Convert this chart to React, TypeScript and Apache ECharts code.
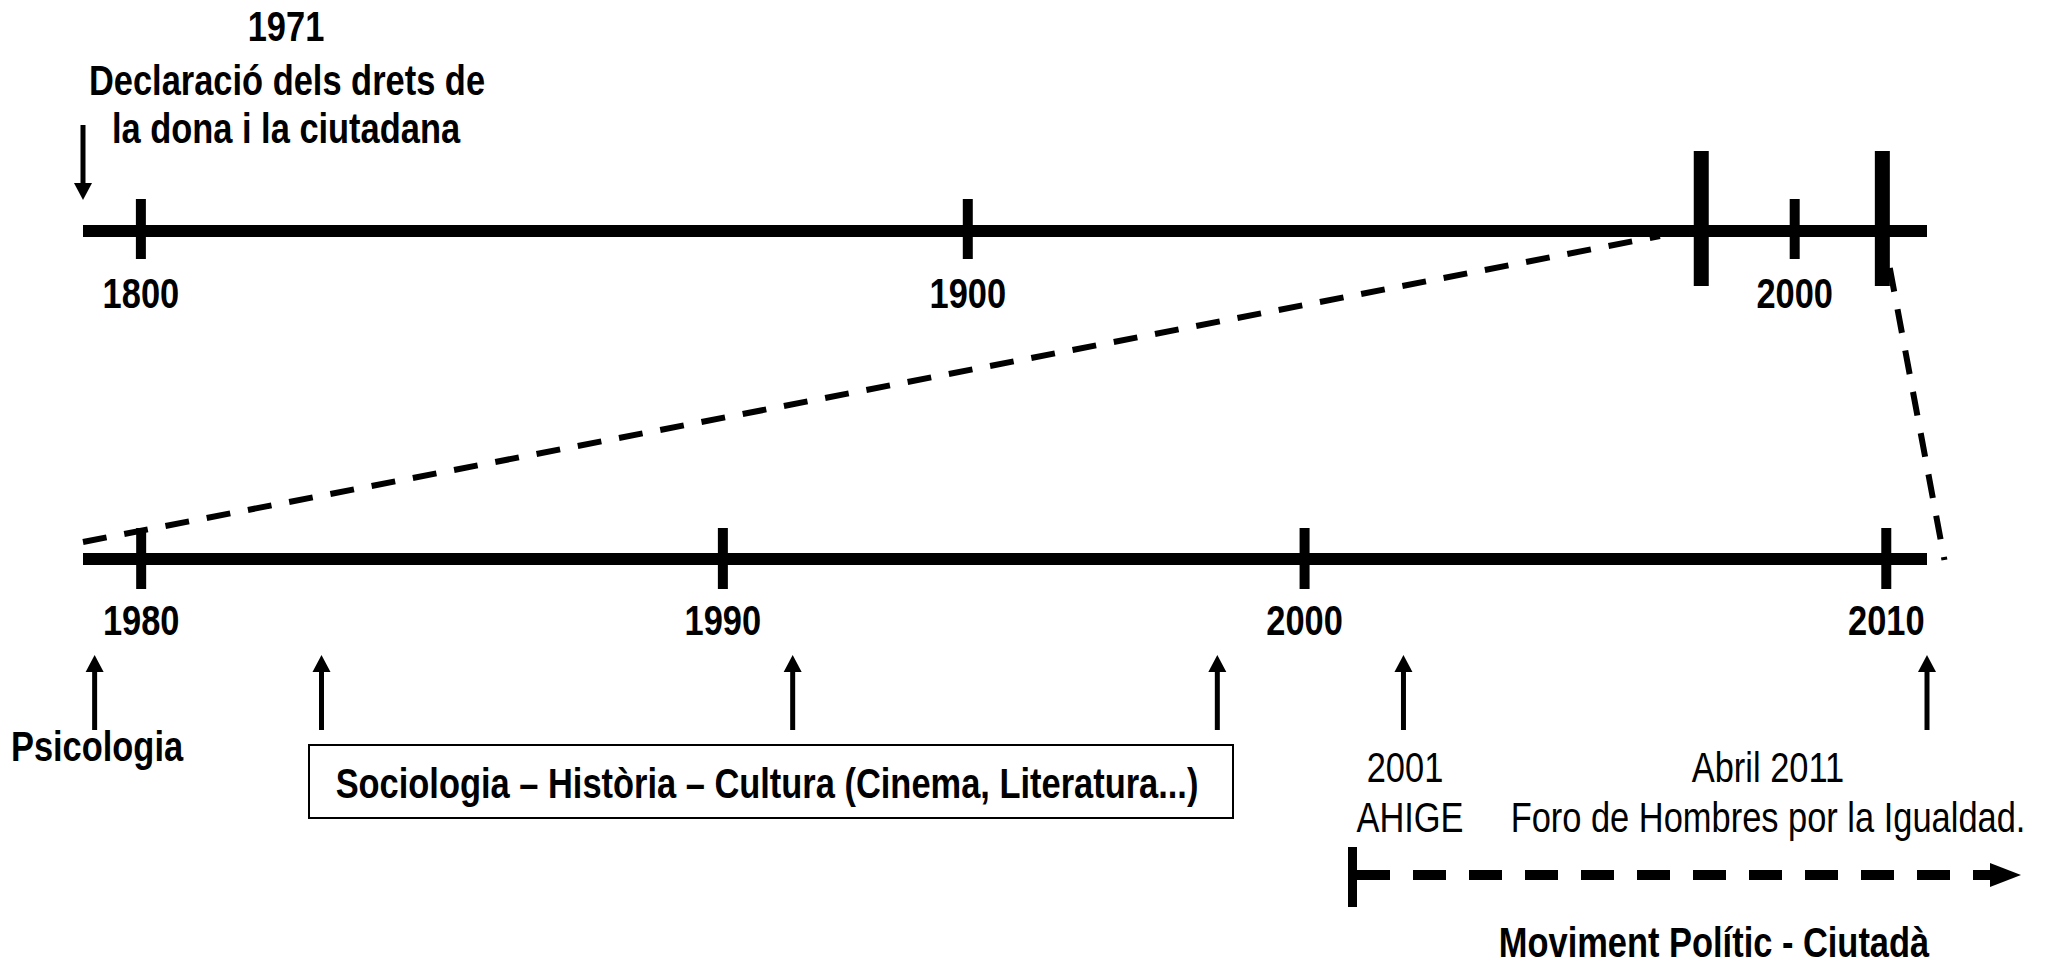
import React, { useEffect, useRef } from "react";
import * as echarts from "echarts";

const FONT = '"Liberation Sans", Arial, sans-serif';
const NARROW = 0.82;
const FS = 42;

// ---- top timeline (overview 1800-2000) ----
const topRange = [1793, 2016];
const topTicks = [1800, 1900, 2000];
const topTickLabels = ["1800", "1900", "2000"];
const topZoomMarks = [1988.7, 2010.6];
const topEventYears = [1793];
const zoomConnectTop = [1983.7, 2011.5];

// ---- bottom timeline (detail 1980-2011) ----
const bottomRange = [1979, 2010.7];
const bottomTicks = [1980, 1990, 2000, 2010];
const bottomTickLabels = ["1980", "1990", "2000", "2010"];
const bottomEventYears = [1979.2, 1983.1, 1991.2, 1998.5, 2001.7, 2010.7];
const zoomConnectBottom = [1979.0, 2011.0];

// ---- annotation texts ----
const topNoteLines = ["1971", "Declaració dels drets de", "la dona i la ciutadana"];
const psicoLabel = "Psicologia";
const boxLabel = "Sociologia – Història – Cultura (Cinema, Literatura...)";
const ahigeLines = ["2001", "AHIGE"];
const foroLines = ["Abril 2011", "Foro de Hombres por la Igualdad."];
const movimentLabel = "Moviment Polític - Ciutadà";

function textEl(text: string, x: number, y: number, bold = true, extra: any = {}) {
  return {
    type: "text",
    x,
    y,
    scaleX: NARROW,
    silent: true,
    style: {
      text,
      fill: "#000",
      fontFamily: FONT,
      fontSize: FS,
      fontWeight: bold ? "bold" : "normal",
      align: "center",
      textAlign: "center",
      verticalAlign: "middle",
      textVerticalAlign: "middle",
      ...extra,
    },
  };
}

function lineSeries(xAxisIndex: number, range: number[], yc: number) {
  return {
    type: "custom",
    xAxisIndex,
    yAxisIndex: 0,
    data: [[range[0], range[1]]],
    renderItem: (params: any, api: any) => {
      const a = api.coord([api.value(0), yc - 6]);
      const b = api.coord([api.value(1), yc + 6]);
      return {
        type: "rect",
        shape: { x: a[0], y: a[1], width: b[0] - a[0], height: b[1] - a[1] },
        style: { fill: "#000" },
      };
    },
  };
}

function tickSeries(
  xAxisIndex: number,
  ticks: number[],
  labels: string[] | null,
  y0: number,
  y1: number,
  w: number,
  labelY: number
) {
  return {
    type: "custom",
    xAxisIndex,
    yAxisIndex: 0,
    data: ticks.map((t) => [t]),
    renderItem: (params: any, api: any) => {
      const v = api.value(0);
      const a = api.coord([v, y0]);
      const b = api.coord([v, y1]);
      const children: any[] = [
        {
          type: "rect",
          shape: { x: a[0] - w / 2, y: a[1], width: w, height: b[1] - a[1] },
          style: { fill: "#000" },
        },
      ];
      if (labels) {
        const l = api.coord([v, labelY]);
        children.push({
          type: "text",
          x: l[0],
          y: l[1],
          scaleX: NARROW,
          style: {
            text: labels[params.dataIndex],
            fill: "#000",
            fontFamily: FONT,
            fontSize: FS,
            fontWeight: "bold",
            align: "center",
            verticalAlign: "middle",
          },
        });
      }
      return { type: "group", children };
    },
  };
}

function arrowSeries(xAxisIndex: number, years: number[], yTip: number, yTail: number) {
  return {
    type: "custom",
    xAxisIndex,
    yAxisIndex: 0,
    data: years.map((t) => [t]),
    renderItem: (params: any, api: any) => {
      const v = api.value(0);
      const tip = api.coord([v, yTip]);
      const tail = api.coord([v, yTail]);
      const dir = tail[1] > tip[1] ? 1 : -1;
      const headLen = 17;
      const headHalf = 9;
      const base = tip[1] + dir * headLen;
      return {
        type: "group",
        children: [
          {
            type: "line",
            shape: { x1: tip[0], y1: base, x2: tail[0], y2: tail[1] },
            style: { stroke: "#000", lineWidth: 5 },
          },
          {
            type: "polygon",
            shape: {
              points: [
                [tip[0], tip[1]],
                [tip[0] - headHalf, base],
                [tip[0] + headHalf, base],
              ],
            },
            style: { fill: "#000" },
          },
        ],
      };
    },
  };
}

export default function App() {
  const ref = useRef<HTMLDivElement>(null);

  useEffect(() => {
    if (!ref.current) return;
    const chart = echarts.init(ref.current, null, { renderer: "svg" });
    chart.setOption({
      animation: false,
      backgroundColor: "#fff",
      grid: { left: 83, right: 124, top: 0, bottom: 0 },
      xAxis: [
        { type: "value", min: topRange[0], max: topRange[1], show: false, gridIndex: 0 },
        { type: "value", min: bottomRange[0], max: bottomRange[1], show: false, gridIndex: 0 },
      ],
      yAxis: [{ type: "value", min: 0, max: 965, inverse: true, show: false }],
      series: [
        lineSeries(0, topRange, 231),
        tickSeries(0, topTicks, topTickLabels, 199, 259, 10, 293),
        tickSeries(0, topZoomMarks, null, 151, 286, 15, 0),
        arrowSeries(0, topEventYears, 200, 125),
        lineSeries(1, bottomRange, 559),
        tickSeries(1, bottomTicks, bottomTickLabels, 528, 589, 10, 620),
        arrowSeries(1, bottomEventYears, 655, 730),
      ],
    });

    const px = (axis: number, v: number) =>
      chart.convertToPixel({ xAxisIndex: axis }, v) as unknown as number;

    const dash = { stroke: "#000", lineWidth: 6, lineDash: [24, 18] };
    const connectors = [
      {
        type: "line",
        shape: { x1: px(1, zoomConnectBottom[0]), y1: 542, x2: px(0, zoomConnectTop[0]), y2: 236 },
        style: dash,
      },
      {
        type: "line",
        shape: { x1: px(0, zoomConnectTop[1]), y1: 268, x2: px(1, zoomConnectBottom[1]), y2: 560 },
        style: dash,
      },
    ];

    const graphics: any[] = [
      ...connectors,
      textEl(topNoteLines[0], 286, 26),
      textEl(topNoteLines[1], 287, 80),
      textEl(topNoteLines[2], 286, 128),
      textEl(psicoLabel, 97, 746),
      {
        type: "rect",
        shape: { x: 309, y: 745, width: 924, height: 73 },
        style: { fill: "#fff", stroke: "#000", lineWidth: 2 },
      },
      textEl(boxLabel, 767, 783),
      textEl(ahigeLines[0], 1405, 767, false),
      textEl(ahigeLines[1], 1410, 817, false),
      textEl(foroLines[0], 1768, 767, false),
      textEl(foroLines[1], 1768, 817, false),
      {
        type: "rect",
        shape: { x: 1348, y: 847, width: 9, height: 60 },
        style: { fill: "#000" },
      },
      {
        type: "line",
        shape: { x1: 1357, y1: 875, x2: 1992, y2: 875 },
        style: { stroke: "#000", lineWidth: 10, lineDash: [33, 23] },
      },
      {
        type: "polygon",
        shape: { points: [[1990, 863], [2021, 875], [1990, 887]] },
        style: { fill: "#000" },
      },
      textEl(movimentLabel, 1714, 942),
    ];
    chart.setOption({ graphic: { elements: graphics } });

    return () => chart.dispose();
  }, []);

  return (
    <div
      ref={ref}
      style={{ position: "absolute", left: 0, top: 0, width: 2051, height: 965, background: "#fff" }}
    />
  );
}
